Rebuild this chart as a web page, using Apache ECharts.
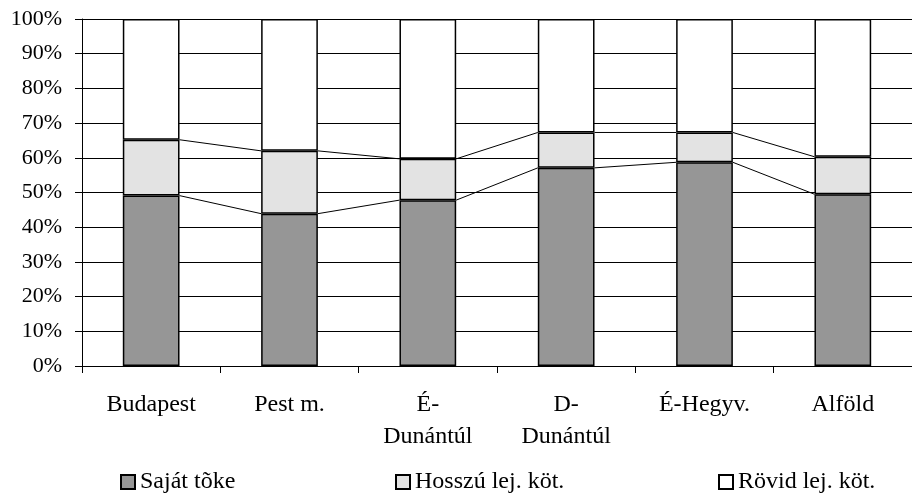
<!DOCTYPE html>
<html>
<head>
<meta charset="utf-8">
<script src="https://cdn.jsdelivr.net/npm/echarts@6/dist/echarts.min.js"></script>
<style>html,body{margin:0;padding:0;background:#fff}#c{width:912px;height:498px}</style>
</head>
<body>
<div id="c"></div>
<script>
const categories = ['Budapest', 'Pest m.', 'É-\nDunántúl', 'D-\nDunántúl', 'É-Hegyv.', 'Alföld'];
const sajatToke = [49.1, 43.9, 47.8, 57.1, 58.7, 49.5];
const hosszuLej = [16.1, 18.1, 11.9, 10.2, 8.6, 10.8];
const rovidLej = [34.8, 38.0, 40.3, 32.7, 32.7, 39.7];
const seriesNames = ['Saját tõke', 'Hosszú lej. köt.', 'Rövid lej. köt.'];
const yTicks = [0, 10, 20, 30, 40, 50, 60, 70, 80, 90, 100];

const FONT = 'Liberation Serif';
const BAR_FRAC = 0.41;

const cum2 = sajatToke.map((v, i) => v + hosszuLej[i]);
const connData = [];
for (let i = 0; i < categories.length - 1; i++) {
  connData.push([i, sajatToke[i], sajatToke[i + 1], cum2[i], cum2[i + 1]]);
}

const chart = echarts.init(document.getElementById('c'), null, {renderer: 'canvas'});
const legendCommon = {
  itemWidth: 14, itemHeight: 14, itemGap: 7, top: 465,
  textStyle: {fontFamily: FONT, fontSize: 24, color: '#000'},
  icon: 'rect', selectedMode: false
};
chart.setOption({
  animation: false,
  backgroundColor: '#fff',
  grid: {left: 82, right: -12, top: 19, bottom: 132, containLabel: false},
  legend: [
    Object.assign({}, legendCommon, {left: 115, data: [seriesNames[0]]}),
    Object.assign({}, legendCommon, {left: 390, data: [seriesNames[1]]}),
    Object.assign({}, legendCommon, {left: 713, data: [seriesNames[2]]})
  ],
  xAxis: {
    type: 'category',
    data: categories,
    boundaryGap: true,
    axisLine: {show: true, lineStyle: {color: '#000', width: 1}},
    axisTick: {show: true, length: 7, alignWithLabel: false, lineStyle: {color: '#000'}},
    axisLabel: {fontFamily: FONT, fontSize: 24, color: '#000', margin: 23, lineHeight: 32, interval: 0},
    splitLine: {show: false}
  },
  yAxis: {
    type: 'value',
    min: 0, max: 100, interval: 10,
    axisLine: {show: true, lineStyle: {color: '#000', width: 1}},
    axisTick: {show: true, length: 7, inside: false, lineStyle: {color: '#000'}},
    axisLabel: {fontFamily: FONT, fontSize: 22, color: '#000', margin: 20,
      formatter: v => yTicks.indexOf(v) >= 0 ? v + '%' : ''},
    splitLine: {show: true, lineStyle: {color: '#000', width: 1}}
  },
  series: [
    {name: seriesNames[0], type: 'bar', stack: 's', data: sajatToke, barWidth: (BAR_FRAC * 100) + '%',
      itemStyle: {color: '#969696', borderColor: '#000', borderWidth: 1.5}},
    {name: seriesNames[1], type: 'bar', stack: 's', data: hosszuLej, barWidth: (BAR_FRAC * 100) + '%',
      itemStyle: {color: '#e3e3e3', borderColor: '#000', borderWidth: 1.5}},
    {name: seriesNames[2], type: 'bar', stack: 's', data: rovidLej, barWidth: (BAR_FRAC * 100) + '%',
      itemStyle: {color: '#ffffff', borderColor: '#000', borderWidth: 1.5}},
    {
      type: 'custom', z: 5, silent: true,
      data: connData,
      encode: {x: 0, y: 1},
      renderItem: function (params, api) {
        const i = api.value(0);
        const half = api.size([1, 0])[0] * BAR_FRAC / 2;
        const a1 = api.coord([i, api.value(1)]);
        const b1 = api.coord([i + 1, api.value(2)]);
        const a2 = api.coord([i, api.value(3)]);
        const b2 = api.coord([i + 1, api.value(4)]);
        const st = {stroke: '#000', lineWidth: 1};
        return {type: 'group', children: [
          {type: 'line', shape: {x1: a1[0] + half, y1: a1[1], x2: b1[0] - half, y2: b1[1]}, style: st},
          {type: 'line', shape: {x1: a2[0] + half, y1: a2[1], x2: b2[0] - half, y2: b2[1]}, style: st}
        ]};
      }
    }
  ]
});
</script>
</body>
</html>
